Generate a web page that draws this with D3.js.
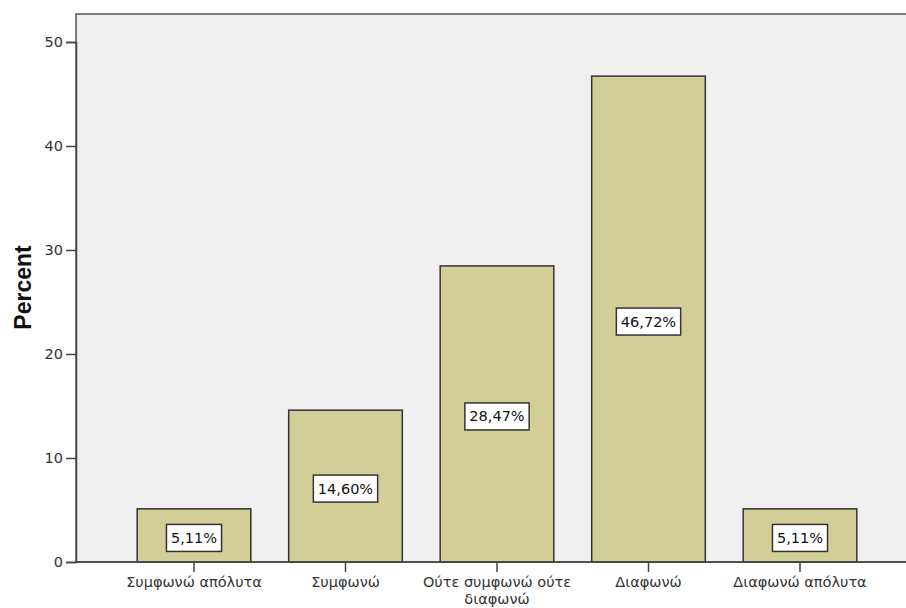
<!DOCTYPE html>
<html><head><meta charset="utf-8">
<script src="https://cdn.jsdelivr.net/npm/d3@7"></script>
<style>body{margin:0;background:#fff;} svg{display:block;}</style>
</head><body>
<svg id="c" width="906" height="608"></svg>
<script>
const categories = ["Συμφωνώ απόλυτα", "Συμφωνώ", "Ούτε συμφωνώ ούτε διαφωνώ", "Διαφωνώ", "Διαφωνώ απόλυτα"];
const categoryLines = [["Συμφωνώ απόλυτα"], ["Συμφωνώ"], ["Ούτε συμφωνώ ούτε", "διαφωνώ"], ["Διαφωνώ"], ["Διαφωνώ απόλυτα"]];
const percents = [5.11, 14.60, 28.47, 46.72, 5.11];
const labels = ["5,11%", "14,60%", "28,47%", "46,72%", "5,11%"];
const yTicks = [0, 10, 20, 30, 40, 50];
const yTitle = "Percent";

const svg = d3.select("#c");
const pLeft = 76, pTop = 14, pBottom = 562, pRight = 918;
const font = "'DejaVu Sans', Verdana, sans-serif";

const y = d3.scaleLinear().domain([0, 50]).range([pBottom, 42]);
const x = d3.scaleBand().domain(categories).range([118.25, 875.75]).paddingInner(0.25).paddingOuter(0.125);

// plot background
svg.append("rect").attr("x", pLeft).attr("y", pTop).attr("width", pRight - pLeft).attr("height", pBottom - pTop)
  .attr("fill", "#f0f0f0").attr("stroke", "#555").attr("stroke-width", 1.5);

// bars
svg.selectAll("rect.bar").data(percents).join("rect").attr("class", "bar")
  .attr("x", (d, i) => x(categories[i]))
  .attr("y", d => y(d))
  .attr("width", x.bandwidth())
  .attr("height", d => pBottom - y(d))
  .attr("fill", "#d3ce97").attr("stroke", "#333").attr("stroke-width", 1.5);

// value labels
const lab = svg.append("g");
percents.forEach((d, i) => {
  const cx = x(categories[i]) + x.bandwidth() / 2;
  const cy = (y(d) + pBottom) / 2 + 2.5;
  const g = lab.append("g");
  const t = g.append("text").attr("x", cx).attr("y", cy).attr("text-anchor", "middle")
    .attr("dominant-baseline", "central").attr("font-family", font).attr("font-size", 14.5)
    .attr("fill", "#111").text(labels[i]);
  const bb = t.node().getBBox();
  g.insert("rect", "text").attr("x", cx - bb.width / 2 - 4.5).attr("y", cy - 13.5)
    .attr("width", bb.width + 9).attr("height", 27)
    .attr("fill", "#fff").attr("stroke", "#333").attr("stroke-width", 1.5);
});

// y axis
const yAxis = d3.axisLeft(y).tickValues(yTicks).tickSize(10).tickPadding(3).tickFormat(d3.format("d"));
const ya = svg.append("g").attr("transform", `translate(${pLeft},0)`).call(yAxis);
ya.select(".domain").attr("stroke", "#444").attr("stroke-width", 1.5);
ya.selectAll(".tick line").attr("stroke", "#444").attr("stroke-width", 1.5);
ya.selectAll(".tick text").attr("font-family", font).attr("font-size", 14.5).attr("fill", "#333");

// x axis
const xAxis = d3.axisBottom(x).tickSize(10).tickFormat(() => "");
const xa = svg.append("g").attr("transform", `translate(0,${pBottom})`).call(xAxis);
xa.select(".domain").remove();
xa.selectAll(".tick line").attr("stroke", "#444").attr("stroke-width", 1.5);
xa.append("line").attr("x1", pLeft).attr("x2", pRight).attr("y1", 0).attr("y2", 0).attr("stroke", "#444").attr("stroke-width", 1.5);
xa.selectAll(".tick").each(function(d, i) {
  const t = d3.select(this).append("text").attr("y", 25).attr("text-anchor", "middle")
    .attr("font-family", font).attr("font-size", 14.5).attr("fill", "#333");
  categoryLines[i].forEach((line, j) => {
    t.append("tspan").attr("x", 0).attr("dy", j === 0 ? 0 : 17).text(line);
  });
});

// y title
svg.append("text").attr("transform", `translate(31,287.5) rotate(-90)`)
  .attr("text-anchor", "middle").attr("font-family", "'Liberation Sans', Arial, sans-serif").attr("font-size", 23)
  .attr("font-weight", "bold").attr("fill", "#111").text(yTitle);
</script>
</body></html>
